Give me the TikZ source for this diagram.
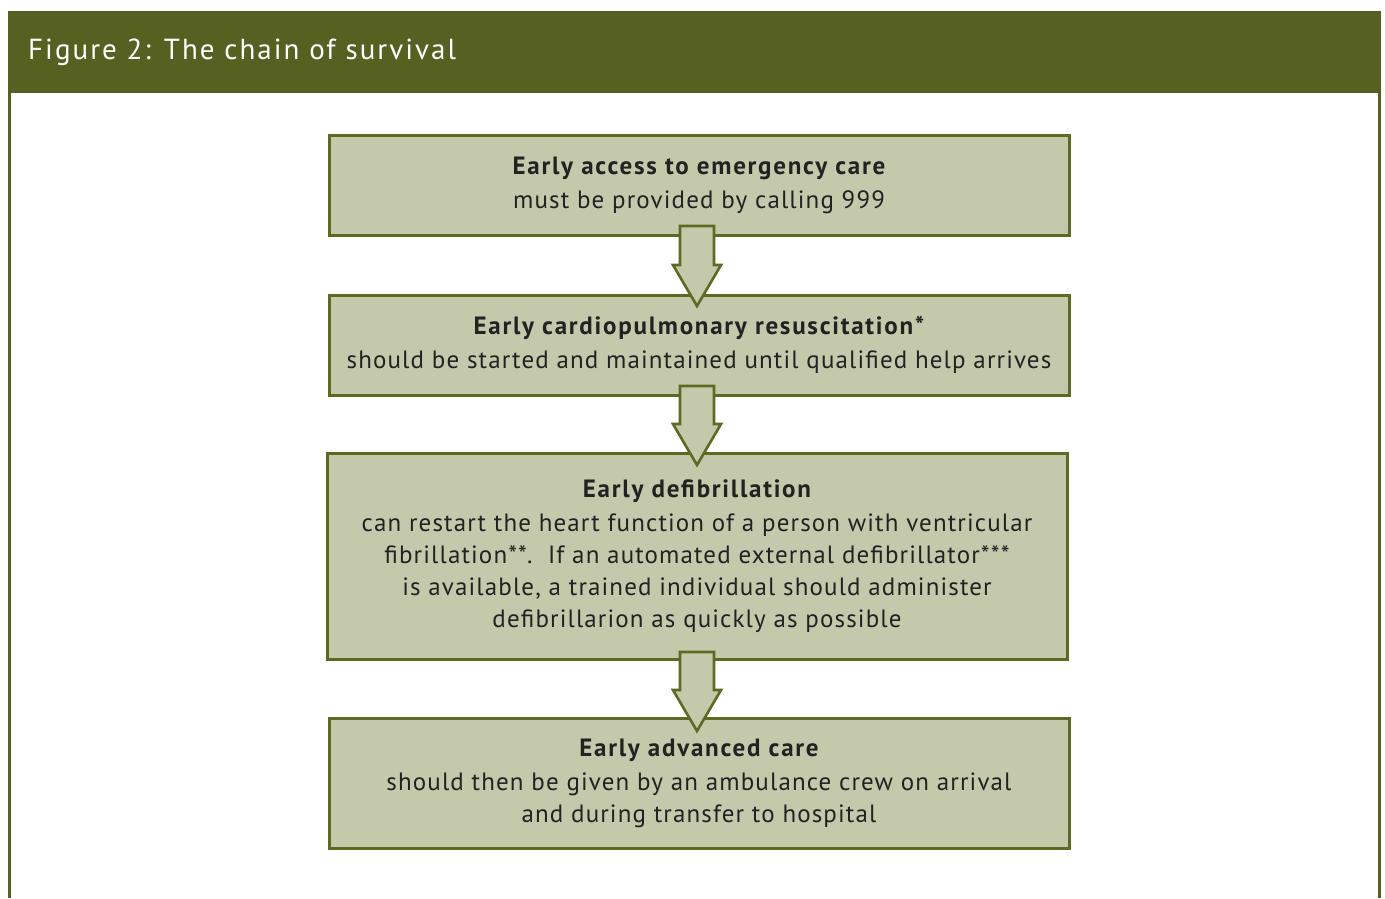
\documentclass[tikz,border=0pt]{standalone}
\usepackage{fontspec}
\setmainfont{PT Sans}
\usetikzlibrary{calc}
\definecolor{olive}{HTML}{566121}
\definecolor{bord}{HTML}{5C6A24}
\definecolor{sage}{HTML}{C4C9AB}
\definecolor{ink}{HTML}{222222}
\newcommand{\hd}[1]{{\bfseries\addfontfeatures{LetterSpace=7}#1}\\[2pt]}
\tikzset{
  stepbox/.style={draw=bord, fill=sage, line width=3pt, minimum width=740pt, inner sep=0pt, align=center, text=ink, font=\fontsize{25}{32}\selectfont\addfontfeatures{LetterSpace=4.5}},
  downarrow/.style={draw=bord, fill=sage, line width=2.6pt, miter limit=10}
}
\newcommand{\flowarrow}[3]{% x, top y, tip y
  \path[downarrow] (#1-17,#2) -- (#1+17,#2) -- (#1+17,#3-41) -- (#1+24,#3-41) -- (#1,#3) -- (#1-24,#3-41) -- (#1-17,#3-41) -- cycle;
}
\begin{document}
\begin{tikzpicture}[x=1pt,y=-1pt]
\useasboundingbox (0,0) rectangle (1385,898);
\fill[white] (0,0) rectangle (1385,898);
% header
\fill[olive] (8,11) rectangle (1381,93);
\node[anchor=west, text=white, font=\fontsize{29}{34}\selectfont\addfontfeatures{LetterSpace=7}, inner sep=0pt] (title) at (28,52) {Figure 2: The chain of survival};
\draw[olive, line width=3pt] (9.5,93) -- (9.5,898);
\draw[olive, line width=3pt] (1379,93) -- (1379,898);
% boxes
\node[stepbox, minimum height=100pt] (b1) at (699,185) {\hd{Early access to emergency care}must be provided by calling 999};
\node[stepbox, minimum height=100pt] (b2) at (699,345) {\hd{Early cardiopulmonary resuscitation*}should be started and maintained until qualified help arrives};
\node[stepbox, minimum height=206pt] (b3) at (697,556) {\hd{Early defibrillation}can restart the heart function of a person with ventricular\\fibrillation**.\ \ If an automated external defibrillator***\\is available, a trained individual should administer\\defibrillarion as quickly as possible};
\node[stepbox, minimum height=130pt] (b4) at (699,783) {\hd{Early advanced care}should then be given by an ambulance crew on arrival\\and during transfer to hospital};
% arrows
\flowarrow{697}{226}{306}
\flowarrow{697}{386}{465}
\flowarrow{697}{652}{731}
\end{tikzpicture}
\end{document}
